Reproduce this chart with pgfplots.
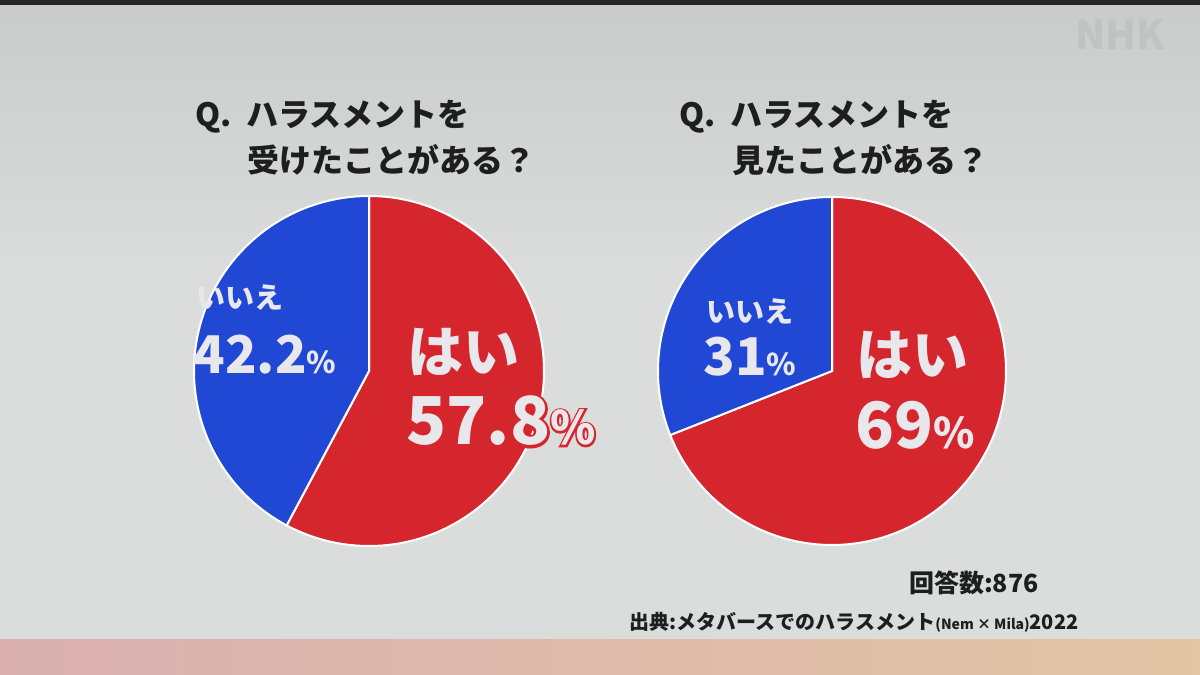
\documentclass[border=0pt]{standalone}
\usepackage{pgfplots}
\pgfplotsset{compat=1.18}
\usepackage{pgfplotstable}
\usepackage{fontspec}
\setmainfont{Noto Sans CJK JP}
\newfontfamily\jp{Noto Sans CJK JP}
\newfontfamily\jpfat{Noto Sans CJK JP}[FakeBold=8]

\definecolor{pred}{HTML}{D6262D}
\definecolor{pblue}{HTML}{2048D4}
\definecolor{panel}{HTML}{DADDDC}
\definecolor{ink}{HTML}{1E1E1E}
\definecolor{labw}{HTML}{E8E8EC}

% share of answers (%), yes / no
\pgfplotstableread{
q    yes   no
1    57.8  42.2
2    69    31
}\pietable
\pgfplotstablegetelem{0}{yes}\of\pietable \let\Ayes\pgfplotsretval
\pgfplotstablegetelem{0}{no}\of\pietable  \let\Ano\pgfplotsretval
\pgfplotstablegetelem{1}{yes}\of\pietable \let\Byes\pgfplotsretval
\pgfplotstablegetelem{1}{no}\of\pietable  \let\Bno\pgfplotsretval

\begin{document}
\begin{tikzpicture}
\begin{axis}[
    x=1pt, y=1pt,
    xmin=0, xmax=1200, ymin=0, ymax=675,
    hide axis, clip=false,
    scale only axis,
    samples=181, variable=\t,
  ]
% background of the screen
\fill[top color=panel!92!black, bottom color=panel] (axis cs:0,675) rectangle (axis cs:1200,400);
\fill[panel] (axis cs:0,400) rectangle (axis cs:1200,35);
\fill[left color=pred!25!panel, right color=orange!25!panel] (axis cs:0,0) rectangle (axis cs:1200,35);
\fill[black!85] (axis cs:0,675) rectangle (axis cs:1200,670);
\node[text=panel!88!black, font=\jp\bfseries\itshape\fontsize{40}{40}\selectfont, anchor=center] at (axis cs:1120,640) {NHK};

% left pie: harassment experienced
\addplot[fill=pred, draw=white, line width=2pt, domain={90-3.6*\Ayes}:90]
  ({369+175*cos(t)},{304+175*sin(t)}) -- (axis cs:369,304) -- cycle;
\addplot[fill=pblue, draw=white, line width=2pt, domain=90:{90+3.6*\Ano}]
  ({369+175*cos(t)},{304+175*sin(t)}) -- (axis cs:369,304) -- cycle;

% right pie: harassment witnessed
\addplot[fill=pred, draw=white, line width=2pt, domain={90-3.6*\Byes}:90]
  ({832+174*cos(t)},{304+174*sin(t)}) -- (axis cs:832,304) -- cycle;
\addplot[fill=pblue, draw=white, line width=2pt, domain=90:{90+3.6*\Bno}]
  ({832+174*cos(t)},{304+174*sin(t)}) -- (axis cs:832,304) -- cycle;

% titles
\node[anchor=west, text=ink, font=\jp\bfseries\fontsize{32}{32}\selectfont] at (axis cs:192,558) {Q.\hspace{0.45em}ハラスメントを};
\node[anchor=west, text=ink, font=\jp\bfseries\fontsize{32}{32}\selectfont] at (axis cs:244,515) {受けたことがある？};
\node[anchor=west, text=ink, font=\jp\bfseries\fontsize{32}{32}\selectfont] at (axis cs:676,558) {Q.\hspace{0.45em}ハラスメントを};
\node[anchor=west, text=ink, font=\jp\bfseries\fontsize{32}{32}\selectfont] at (axis cs:729,515) {見たことがある？};

% slice labels, left
\node[anchor=west, text=labw, font=\jp\bfseries\fontsize{29}{29}\selectfont] at (axis cs:193,377) {いいえ};
\node[anchor=west, text=labw, font=\jp\bfseries\fontsize{52}{52}\selectfont] at (axis cs:190,320) {\Ano{\fontsize{30}{30}\selectfont\%}};
\node[anchor=west, text=labw, font=\jp\bfseries\fontsize{56}{56}\selectfont] at (axis cs:404,323) {はい};
% red rim behind the overflowing label
\node[anchor=west, text=pred, font=\jpfat\bfseries\fontsize{66}{66}\selectfont] at (axis cs:403,254) {\Ayes{\fontsize{46}{46}\selectfont\%}};
\node[anchor=west, text=labw, font=\jp\bfseries\fontsize{66}{66}\selectfont] at (axis cs:403,254) {\Ayes{\fontsize{46}{46}\selectfont\%}};

% slice labels, right
\node[anchor=west, text=labw, font=\jp\bfseries\fontsize{29}{29}\selectfont] at (axis cs:703,363) {いいえ};
\node[anchor=west, text=labw, font=\jp\bfseries\fontsize{52}{52}\selectfont] at (axis cs:700,318) {\Bno{\fontsize{30}{30}\selectfont\%}};
\node[anchor=west, text=labw, font=\jp\bfseries\fontsize{56}{56}\selectfont] at (axis cs:853,320) {はい};
\node[anchor=west, text=labw, font=\jp\bfseries\fontsize{64}{64}\selectfont] at (axis cs:852,250) {\Byes{\fontsize{42}{42}\selectfont\%}};

% notes
\node[anchor=east, text=ink, font=\jp\bfseries\fontsize{25}{25}\selectfont] at (axis cs:1042,92) {回答数:876};
\node[anchor=east, text=ink, font=\jp\bfseries\fontsize{20}{20}\selectfont] at (axis cs:1082,53) {出典:メタバースでのハラスメント{\fontsize{14}{14}\selectfont(Nem × Mila)}2022};
\end{axis}
\end{tikzpicture}
\end{document}
